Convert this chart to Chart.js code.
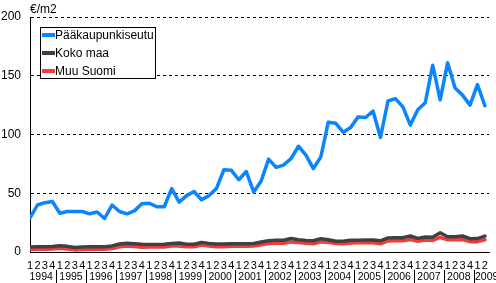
<!DOCTYPE html>
<html>
<head>
<meta charset="utf-8">
<script src="https://cdn.jsdelivr.net/npm/chart.js@4"></script>
<style>
  html, body { margin: 0; padding: 0; background: #fff; }
  #wrap { width: 496px; height: 283px; position: relative; }
</style>
</head>
<body>
<div id="wrap"><canvas id="chart"></canvas></div>
<script>
  // quarters 1994 Q1 .. 2009 Q2
  const years = [1994, 1995, 1996, 1997, 1998, 1999, 2000, 2001, 2002, 2003, 2004, 2005, 2006, 2007, 2008, 2009];
  const quartersPerYear = [4, 4, 4, 4, 4, 4, 4, 4, 4, 4, 4, 4, 4, 4, 4, 2];
  const quarterLabels = [];
  quartersPerYear.forEach(n => { for (let q = 1; q <= n; q++) quarterLabels.push(String(q)); });

  const seriesNames = ['Pääkaupunkiseutu', 'Koko maa', 'Muu Suomi'];

  const paakaupunkiseutu = [
    29, 40, 42, 43, 33, 34.5, 34.5, 34.5, 32.5, 34, 28.5, 40,
    34.5, 32.5, 35, 41, 41.5, 38.5, 38.5, 54, 42.5, 48, 51.5, 44.5,
    48, 54, 70, 69.5, 61.5, 68.5, 51, 60.5, 79, 72, 74, 79.5,
    90, 82.5, 71, 81, 110.5, 109.5, 102, 106, 115, 114.5, 120, 97.5,
    128.5, 130.5, 123.5, 108, 121, 127, 159, 129.5, 161, 139.5, 133.5, 125,
    142.5, 124.5
  ];
  const kokoMaa = [
    4.2, 4.5, 4.5, 4.6, 5.4, 4.8, 3.8, 4.3, 4.4, 4.4, 4.5, 5.2,
    6.8, 7.5, 7, 6.5, 6.4, 6.4, 6.5, 7.2, 7.6, 6.6, 6.6, 8.2,
    7.2, 6.8, 6.8, 7, 7, 7, 7.2, 8.5, 9.6, 10, 10, 11.5,
    10.5, 9.8, 9.6, 11.3, 10.5, 9.2, 9.2, 10, 10, 10.2, 10.2, 9.5,
    12, 12.2, 12.2, 13.6, 11.6, 12.8, 12.6, 16.4, 13, 13, 13.6, 11.3,
    11.4, 13.5
  ];
  const muuSuomi = [
    2.2, 2.4, 2.4, 2.5, 3.2, 2.6, 1.8, 2.2, 2.3, 2.3, 2.4, 3,
    4.5, 5, 4.6, 4, 4.2, 4.2, 4.2, 5, 5.2, 4.4, 4.4, 6,
    5, 4.4, 4.5, 4.8, 4.8, 4.8, 5, 6.2, 7.2, 7.6, 7.4, 8.6,
    8, 7.4, 7, 8.6, 8.2, 7.2, 7, 7.6, 7.8, 8, 7.8, 7,
    9.4, 9.6, 9.6, 10.6, 9.2, 10.2, 9.8, 12.5, 10.4, 10.4, 10.6, 8.8,
    8.8, 10.4
  ];

  const colors = ['#0a84ff', '#404040', '#f23c3c'];
  const FONT = 'Liberation Sans, Arial, sans-serif';

  function toPoints(arr) {
    return arr.map((v, i) => ({ x: i, y: v }));
  }

  // unit label, year row under the quarters, and boxed legend
  const extras = {
    id: 'extras',
    afterDraw(chart) {
      const ctx = chart.ctx;
      const xs = chart.scales.x;
      ctx.save();
      ctx.fillStyle = '#000';
      ctx.font = '12px ' + FONT;
      ctx.textBaseline = 'alphabetic';
      ctx.textAlign = 'left';
      ctx.fillText('€/m2', 30, 13);

      // years
      ctx.font = '10.5px ' + FONT;
      ctx.textAlign = 'center';
      ctx.textBaseline = 'middle';
      ctx.strokeStyle = '#000';
      ctx.lineWidth = 1;
      let idx = 0;
      years.forEach((yr, k) => {
        const n = quartersPerYear[k];
        const first = xs.getPixelForValue(idx);
        const last = xs.getPixelForValue(idx + n - 1);
        let cx = (first + last) / 2;
        if (n < 4) cx = xs.getPixelForValue(idx - 0.5) + 13;
        ctx.fillText(String(yr), cx, 277);
        if (k > 0) {
          const sx = Math.round(xs.getPixelForValue(idx - 0.5)) + 0.5;
          ctx.beginPath();
          ctx.moveTo(sx, 270);
          ctx.lineTo(sx, 283);
          ctx.stroke();
        }
        idx += n;
      });

      // legend box
      ctx.fillStyle = '#fff';
      ctx.fillRect(40.5, 27.5, 115, 51);
      ctx.strokeRect(40.5, 27.5, 115, 51);
      ctx.font = '12px ' + FONT;
      ctx.textAlign = 'left';
      ctx.textBaseline = 'middle';
      chart.data.datasets.forEach((ds, i) => {
        const y = 35 + i * 18;
        ctx.strokeStyle = ds.borderColor;
        ctx.lineWidth = 4;
        ctx.beginPath();
        ctx.moveTo(42, y);
        ctx.lineTo(55, y);
        ctx.stroke();
        ctx.fillStyle = '#000';
        ctx.fillText(ds.label, 55, y + 0.5);
      });
      ctx.restore();
    }
  };

  new Chart(document.getElementById('chart'), {
    type: 'line',
    data: {
      datasets: [
        { label: seriesNames[0], data: toPoints(paakaupunkiseutu), borderColor: colors[0] },
        { label: seriesNames[1], data: toPoints(kokoMaa), borderColor: colors[1] },
        { label: seriesNames[2], data: toPoints(muuSuomi), borderColor: colors[2] }
      ]
    },
    options: {
      responsive: true,
      maintainAspectRatio: false,
      animation: false,
      layout: { padding: { top: 17, right: 7, left: 0, bottom: 0 } },
      elements: {
        line: { borderWidth: 3.5, tension: 0, fill: false, borderCapStyle: 'round', borderJoinStyle: 'round' },
        point: { radius: 0 }
      },
      plugins: {
        legend: { display: false },
        tooltip: { enabled: false }
      },
      scales: {
        x: {
          type: 'linear',
          min: 0,
          max: 61.55,
          afterFit: s => { s.height = 31; },
          afterBuildTicks: s => { s.ticks = quarterLabels.map((_, i) => ({ value: i })); },
          grid: { display: false, drawTicks: false },
          border: { display: true, color: '#000', width: 1 },
          ticks: {
            autoSkip: false,
            maxRotation: 0,
            padding: 7,
            color: '#000',
            font: { family: FONT, size: 11 },
            callback: v => quarterLabels[Math.round(v)] || ''
          }
        },
        y: {
          min: 0,
          max: 200,
          afterFit: s => { s.width = 30; },
          grid: { color: '#000', lineWidth: 1, drawTicks: false },
          border: { display: true, color: '#000', width: 1, dash: [3, 3] },
          ticks: {
            stepSize: 50,
            padding: 9,
            color: '#000',
            font: { family: FONT, size: 12 }
          }
        }
      }
    },
    plugins: [extras]
  });
</script>
</body>
</html>
